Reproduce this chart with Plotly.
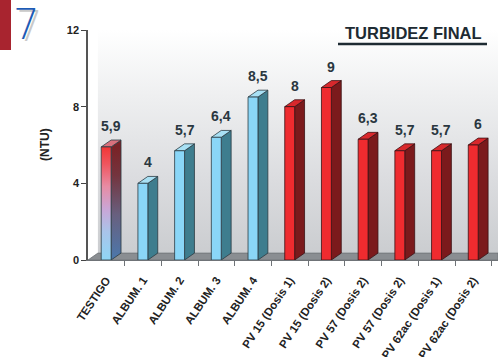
import plotly.graph_objects as go

# Turbidity measured at the end of the test, per treatment
categories = ["TESTIGO", "ALBUM. 1", "ALBUM. 2", "ALBUM. 3", "ALBUM. 4",
              "PV 15 (Dosis 1)", "PV 15 (Dosis 2)", "PV 57 (Dosis 2)",
              "PV 57 (Dosis 2)", "PV 62ac (Dosis 1)", "PV 62ac (Dosis 2)"]
values = [5.9, 4, 5.7, 6.4, 8.5, 8, 9, 6.3, 5.7, 5.7, 6]
value_labels = ["5,9", "4", "5,7", "6,4", "8,5", "8", "9", "6,3", "5,7", "5,7", "6"]
groups = ["control", "album", "album", "album", "album",
          "pv", "pv", "pv", "pv", "pv", "pv"]
y_ticks = [0, 4, 8, 12]

# face colours per group: (front, side, top, outline)
palette = {
    "album": ("#8ad6f7", "#3e7d8e", "#a8e0f4", "#2b3b42"),
    "pv": ("#ef2b2f", "#7b1a1c", "#d8282c", "#3a1214"),
    "control": ("#8ad6f7", "#4b6f9c", "#d9707c", "#2b3b42"),
}

# pseudo-3D geometry in axis units
HALF_L, HALF_R = 0.14, 0.13   # front face extent around the category
DX, DY = 0.27, 0.36           # depth offset of the side / top faces
X_MIN, X_MAX = -0.5, 10.67

fig = go.Figure()


def poly(xs, ys, fill, line, width=0.8, **kw):
    fig.add_trace(go.Scatter(
        x=xs + [xs[0]], y=ys + [ys[0]], mode="lines", fill="toself",
        fillcolor=fill, line=dict(color=line, width=width),
        hoverinfo="skip", showlegend=False, **kw))


# back wall with a soft vertical gradient
poly([X_MIN + DX, X_MAX, X_MAX, X_MIN + DX], [DY, DY, 12, 12],
     "#e6e7e9", "rgba(0,0,0,0)", width=0,
     fillgradient=dict(type="vertical", start=DY, stop=12,
                       colorscale=[[0, "#cbcdd0"], [0.35, "#dcdde0"],
                                   [0.7, "#eeeff0"], [1, "#ffffff"]]))
# floor
poly([X_MIN, X_MIN + DX, X_MAX, X_MAX], [0, DY, DY, 0],
     "#8a8e92", "#6f7377", width=0.8)

for i, (v, g) in enumerate(zip(values, groups)):
    front, side, top, edge = palette[g]
    xl, xr = i - HALF_L, i + HALF_R
    # side face
    side_xs = [xr, xr + DX, xr + DX, xr]
    side_ys = [0, DY, v + DY, v]
    if g == "control":
        poly(side_xs, side_ys, side, edge,
             fillgradient=dict(type="vertical", start=0, stop=v,
                               colorscale=[[0, "#4b78ac"], [0.4, "#68607f"],
                                           [0.75, "#74343e"], [1, "#7a2226"]]))
    else:
        poly(side_xs, side_ys, side, edge)
    # top face
    poly([xl, xl + DX, xr + DX, xr], [v, v + DY, v + DY, v], top, edge)
    # front face
    front_xs = [xl, xr, xr, xl]
    front_ys = [0, 0, v, v]
    if g == "control":
        poly(front_xs, front_ys, front, edge,
             fillgradient=dict(type="vertical", start=0, stop=v,
                               colorscale=[[0, "#8fd6f6"], [0.25, "#a9c4ea"],
                                           [0.45, "#c9a6d6"], [0.65, "#e78ca4"],
                                           [0.85, "#f0555e"], [1, "#f23636"]]))
    else:
        poly(front_xs, front_ys, front, edge)

# value labels above each bar
for i, (v, lab) in enumerate(zip(values, value_labels)):
    fig.add_annotation(x=i + (HALF_R - HALF_L) / 2 + DX / 2, y=v + DY,
                       text=lab, showarrow=False, yanchor="bottom", yshift=4,
                       xanchor="center",
                       font=dict(family="Arial, Liberation Sans", size=14,
                                 color="#2a3740", weight="bold"))

# title with underline
fig.add_annotation(xref="paper", yref="paper", x=(413 - 88) / 410, y=1.0,
                   yshift=-3, xanchor="center", yanchor="middle",
                   text="TURBIDEZ FINAL", showarrow=False,
                   font=dict(family="Arial, Liberation Sans", size=16.5,
                             color="#1e2b33", weight="bold"))
fig.add_shape(type="line", xref="paper", yref="paper",
              x0=(338 - 88) / 410, x1=(487 - 88) / 410,
              y0=(260 - 44) / 230, y1=(260 - 44) / 230,
              line=dict(color="#1e2b33", width=2.5))

# y axis title
fig.add_annotation(xref="paper", yref="paper", x=(45 - 88) / 410, y=0.5,
                   xanchor="center", yanchor="middle",
                   text="(NTU)", textangle=-90, showarrow=False,
                   font=dict(family="Arial, Liberation Sans", size=12,
                             color="#222222", weight="bold"))

# section marker in the top-left corner
fig.add_shape(type="rect", xref="paper", yref="paper",
              x0=-88 / 410, x1=(11 - 88) / 410,
              y0=(260 - 50) / 230, y1=(260 + 30) / 230,
              fillcolor="#a8242f", line=dict(width=0))
fig.add_annotation(xref="paper", yref="paper", x=(26 - 88) / 410,
                   y=(260 - 25) / 230, text="7", showarrow=False,
                   xanchor="center", yanchor="middle",
                   font=dict(family="DejaVu Sans", size=42, color="#1d5bb5",
                             weight=200, shadow="3px 2px 0px #c9c9c9"))

fig.update_layout(
    width=498, height=357,
    margin=dict(l=88, r=0, t=30, b=97, autoexpand=False),
    paper_bgcolor="white", plot_bgcolor="white",
    showlegend=False, hovermode=False,
    xaxis=dict(range=[X_MIN, X_MAX], tickmode="array", automargin=False,
               tickvals=list(range(len(categories))), ticktext=categories,
               tickangle=-56, ticks="", showgrid=False, zeroline=False,
               showline=True, linecolor="#6f7377", linewidth=1,
               ticklabelstandoff=8,
               tickfont=dict(family="Arial, Liberation Sans", size=11.5,
                             color="#222222", weight="bold"),
               minor=dict(tickmode="array",
                          tickvals=[i + 0.5 for i in range(len(categories))],
                          ticks="outside", ticklen=5, tickcolor="#6f7377",
                          showgrid=False)),
    yaxis=dict(range=[0, 12], tickmode="array", tickvals=y_ticks,
               automargin=False,
               ticks="outside", ticklen=5, tickcolor="#444444",
               showgrid=False, zeroline=False, showline=True,
               linecolor="#555555", linewidth=1.5,
               tickfont=dict(family="Arial, Liberation Sans", size=11,
                             color="#222222", weight="bold")),
)

fig.write_html("out.html")
